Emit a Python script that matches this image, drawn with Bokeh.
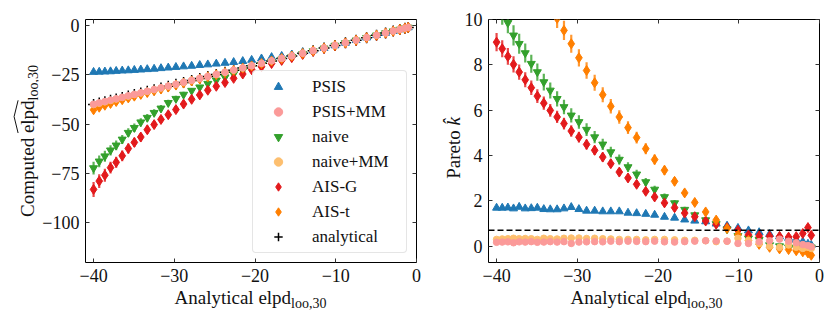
import math
from bokeh.plotting import figure
from bokeh.layouts import row, column
from bokeh.models import (ColumnDataSource, Legend, LegendItem, Span, Div,
                          LinearAxis, FixedTicker, CustomJSTickFormatter, Range1d,
                          CustomLabelingPolicy)
from bokeh.embed import file_html
from bokeh.resources import INLINE

# ---------------- data ----------------
ELPD_ANALYTICAL = [-40.0, -39.3, -38.6, -37.9, -37.2, -36.45, -35.7, -34.95, -34.15, -33.35,
                   -32.5, -31.65, -30.75, -29.8, -28.85, -27.85, -26.85, -25.85, -24.8, -23.72,
                   -22.65, -21.52, -20.42, -19.2, -17.95, -16.7, -15.45, -14.1, -12.8, -11.45,
                   -10.1, -8.8, -7.48, -6.18, -4.95, -3.83, -2.88, -2.07, -1.43, -1.02]

# left panel: computed elpd
PSIS_L = [-23.6, -23.5, -23.4, -23.3, -23.1, -22.9, -22.8, -22.6, -22.4, -22.2,
          -22.0, -21.7, -21.4, -21.1, -20.8, -20.5, -20.1, -19.8, -19.4, -19.0,
          -18.6, -18.1, -17.5, -16.8, -16.1, -15.5, -14.8, -13.6, -12.7, -11.45,
          -10.15, -8.85, -7.5, -6.2, -4.97, -3.85, -2.9, -2.08, -1.44, -1.03]
PSIS_MM_L = [-39.9, -39.2, -38.5, -37.8, -37.1, -36.4, -35.6, -34.9, -34.1, -33.3,
             -32.4, -31.6, -30.7, -29.75, -28.8, -27.8, -26.8, -25.8, -24.75, -23.7,
             -22.6, -21.5, -20.4, -19.15, -17.9, -16.65, -15.4, -14.05, -12.75, -11.4,
             -10.05, -8.75, -7.45, -6.15, -4.93, -3.8, -2.85, -2.05, -1.42, -1.0]
NAIVE_L = [-72.2, -68.8, -66.2, -63.2, -60.7, -57.7, -54.3, -51.8, -49.0, -46.7,
           -44.2, -42.0, -39.2, -37.1, -35.0, -33.0, -31.3, -29.5, -27.8, -26.2,
           -24.6, -22.9, -21.3, -19.9, -18.6, -17.2, -15.9, -14.4, -13.0, -11.6,
           -10.2, -8.9, -7.55, -6.25, -5.0, -3.88, -2.92, -2.1, -1.45, -1.04]
NAIVE_MM_L = [-40.1, -39.4, -38.7, -38.0, -37.3, -36.5, -35.8, -35.0, -34.2, -33.4,
              -32.55, -31.7, -30.8, -29.85, -28.9, -27.9, -26.9, -25.9, -24.85, -23.75,
              -22.7, -21.55, -20.45, -19.2, -17.95, -16.7, -15.45, -14.1, -12.8, -11.45,
              -10.1, -8.8, -7.48, -6.18, -4.95, -3.83, -2.88, -2.07, -1.43, -1.02]
AIS_G_L = [-83.0, -78.8, -75.8, -72.0, -69.3, -66.0, -62.3, -59.2, -56.5, -52.8,
           -50.2, -47.6, -45.2, -42.6, -39.8, -37.4, -35.2, -32.8, -30.8, -28.9,
           -26.8, -24.6, -22.4, -20.9, -19.3, -17.7, -16.3, -14.7, -13.2, -11.7,
           -10.3, -8.95, -7.6, -6.3, -5.05, -3.9, -2.95, -2.12, -1.47, -1.05]
AIS_T_L = [-42.7, -41.4, -40.4, -39.5, -38.5, -37.6, -36.7, -35.8, -34.9, -34.0,
           -33.1, -32.2, -31.2, -30.2, -29.2, -28.1, -27.1, -26.0, -24.95, -23.85,
           -22.75, -21.6, -20.5, -19.25, -18.0, -16.75, -15.5, -14.15, -12.85, -11.5,
           -10.15, -8.85, -7.5, -6.2, -4.97, -3.85, -2.9, -2.08, -1.44, -1.03]
NAIVE_L_ERR = [3.2, 3.0, 2.8, 2.6, 2.5, 2.3, 2.2, 2.1, 2.0, 1.9, 1.8, 1.7, 1.6, 1.5, 1.4, 1.3,
               1.2, 1.2, 1.1, 1.0, 1.0, 0.9, 0.9, 0.8, 0.8, 0.7, 0.7, 0.6, 0.6, 0.5, 0.5, 0.5,
               0.4, 0.4, 0.4, 0.3, 0.3, 0.3, 0.3, 0.3]
AIS_G_L_ERR = [3.8, 3.5, 3.3, 3.0, 2.8, 2.7, 2.5, 2.4, 2.2, 2.1, 2.0, 1.9, 1.8, 1.7, 1.6, 1.5,
               1.4, 1.3, 1.2, 1.1, 1.0, 1.0, 0.9, 0.9, 0.8, 0.8, 0.7, 0.7, 0.6, 0.6, 0.5, 0.5,
               0.5, 0.4, 0.4, 0.4, 0.3, 0.3, 0.3, 0.3]
AIS_T_L_ERR = [1.0, 1.0, 0.9, 0.9, 0.9, 0.8, 0.8, 0.8, 0.7, 0.7, 0.7, 0.7, 0.6, 0.6, 0.6, 0.6,
               0.5, 0.5, 0.5, 0.5, 0.5, 0.4, 0.4, 0.4, 0.4, 0.4, 0.3, 0.3, 0.3, 0.3, 0.3, 0.3,
               0.3, 0.3, 0.3, 0.3, 0.3, 0.3, 0.3, 0.3]

# right panel: Pareto k-hat
PSIS_R = [1.69, 1.69, 1.70, 1.66, 1.73, 1.66, 1.67, 1.69, 1.63, 1.62,
          1.62, 1.66, 1.72, 1.63, 1.56, 1.56, 1.53, 1.53, 1.53, 1.47,
          1.45, 1.42, 1.38, 1.29, 1.25, 1.17, 1.12, 1.09, 0.99, 0.90,
          0.80, 0.69, 0.61, 0.53, 0.43, 0.36, 0.28, 0.20, 0.10, 0.05]
PSIS_MM_R = [0.17, 0.18, 0.19, 0.15, 0.19, 0.18, 0.20, 0.17, 0.18, 0.20,
             0.18, 0.20, 0.12, 0.18, 0.19, 0.20, 0.19, 0.22, 0.20, 0.22,
             0.21, 0.20, 0.22, 0.19, 0.18, 0.20, 0.22, 0.24, 0.23, 0.22,
             0.12, 0.12, 0.20, 0.24, 0.31, 0.22, 0.15, 0.07, 0.03, -0.02]
NAIVE_R = [10.8, 10.25, 9.85, 9.3, 8.93, 8.52, 8.05, 7.68, 7.24, 6.87,
           6.5, 6.14, 5.77, 5.48, 5.14, 4.81, 4.49, 4.15, 3.82, 3.49,
           3.17, 2.83, 2.5, 2.17, 1.9, 1.61, 1.37, 1.15, 0.98, 0.75,
           0.45, 0.35, 0.28, 0.05, 0.0, -0.05, -0.1, -0.05, 0.0, -0.05]
NAIVE_MM_R = [0.30, 0.32, 0.33, 0.35, 0.33, 0.34, 0.33, 0.30, 0.35, 0.33,
              0.32, 0.35, 0.36, 0.36, 0.34, 0.35, 0.33, 0.32, 0.30, 0.30,
              0.30, 0.28, 0.30, 0.30, 0.28, 0.26, 0.26, 0.24, 0.20, 0.22,
              0.35, 0.25, 0.12, 0.0, -0.05, 0.05, -0.05, -0.1, -0.05, -0.1]
AIS_G_R = [9.0, 8.71, 8.37, 8.02, 7.68, 7.34, 6.99, 6.62, 6.31, 5.99,
           5.70, 5.41, 5.08, 4.81, 4.49, 4.23, 3.93, 3.64, 3.27, 3.01,
           2.73, 2.42, 2.17, 1.91, 1.70, 1.46, 1.30, 1.11, 0.97, 0.82,
           0.70, 0.50, 0.45, 0.44, 0.43, 0.40, 0.42, 0.56, 0.82, 0.48]
AIS_T_R = [16.2, 15.6, 15.0, 14.4, 13.8, 13.2, 12.6, 12.0, 11.3, 10.7,
           10.05, 9.52, 8.93, 8.31, 7.75, 7.21, 6.68, 6.17, 5.70, 5.23,
           4.79, 4.30, 3.82, 3.35, 2.86, 2.35, 1.93, 1.51, 1.15, 0.78,
           0.50, 0.26, 0.08, -0.05, -0.12, -0.15, -0.2, -0.25, -0.3, -0.4]
NAIVE_R_ERR = [0.5, 0.48, 0.46, 0.45, 0.44, 0.42, 0.4, 0.38, 0.37, 0.35, 0.34, 0.32, 0.31,
               0.3, 0.28, 0.27, 0.25, 0.24, 0.22, 0.21, 0.2, 0.18, 0.17, 0.15, 0.14, 0.13,
               0.12, 0.11, 0.1, 0.09, 0.08, 0.08, 0.07, 0.07, 0.06, 0.06, 0.06, 0.05, 0.05, 0.05]
AIS_G_R_ERR = [0.4, 0.38, 0.37, 0.36, 0.34, 0.33, 0.32, 0.3, 0.29, 0.28, 0.27, 0.26, 0.25,
               0.24, 0.22, 0.21, 0.2, 0.19, 0.18, 0.17, 0.16, 0.15, 0.14, 0.13, 0.12, 0.11,
               0.1, 0.09, 0.08, 0.08, 0.07, 0.07, 0.06, 0.06, 0.06, 0.06, 0.06, 0.06, 0.07, 0.06]
AIS_T_R_ERR = [0.6, 0.6, 0.58, 0.56, 0.54, 0.52, 0.5, 0.48, 0.46, 0.45, 0.43, 0.42, 0.4,
               0.38, 0.36, 0.35, 0.33, 0.32, 0.3, 0.28, 0.26, 0.24, 0.22, 0.2, 0.18, 0.16,
               0.14, 0.12, 0.1, 0.09, 0.08, 0.07, 0.06, 0.06, 0.06, 0.05, 0.05, 0.05, 0.05, 0.05]

K_THRESHOLD = 0.7
X_TICKS = [-40, -30, -20, -10, 0]
Y_TICKS_L = [0, -25, -50, -75, -100]
Y_TICKS_R = [0, 2, 4, 6, 8, 10]
LEGEND_LABELS = ["PSIS", "PSIS+MM", "naive", "naive+MM", "AIS-G", "AIS-t", "analytical"]
X_LABEL, X_LABEL_SUB = "Analytical elpd", "loo,30"
Y_LABEL_L, Y_LABEL_L_HAT, Y_LABEL_L_SUB = "Computed", "elpd", "loo,30"
Y_LABEL_R, Y_LABEL_R_SYM = "Pareto", "k\u0302"

# ---------------- style ----------------
FONT = "Liberation Serif"
C_PSIS, C_PSIS_MM, C_NAIVE = "#1f78b4", "#fb9a99", "#33a02c"
C_NAIVE_MM, C_AISG, C_AIST = "#fdbf6f", "#e31a1c", "#ff7f00"

FMT_CODE = "return tick < 0 ? '\u2212' + Math.abs(tick) : String(tick);"
FRAME_W, FRAME_H = 331, 243
TOP, BOTTOM = 19, 30
FIG_H = TOP + FRAME_H + BOTTOM


def make_fig(yr, yticks, left, right):
    p = figure(output_backend="svg", toolbar_location=None,
               frame_width=FRAME_W, frame_height=FRAME_H,
               x_range=Range1d(-41, 0), y_range=Range1d(*yr),
               min_border_left=left, min_border_right=right,
               min_border_top=TOP, min_border_bottom=BOTTOM,
               background_fill_color="white", border_fill_color="white",
               outline_line_color="#000000", outline_line_width=1)
    p.grid.visible = False
    for ax, ticks in ((p.xaxis[0], X_TICKS), (p.yaxis[0], yticks)):
        ax.ticker = FixedTicker(ticks=ticks)
        ax.formatter = CustomJSTickFormatter(code=FMT_CODE)
        ax.major_tick_in = 4
        ax.major_tick_out = 0
        ax.minor_tick_in = 0
        ax.minor_tick_out = 0
        ax.axis_line_color = None
        ax.major_tick_line_color = "#333333"
        ax.major_label_text_font = FONT
        ax.major_label_text_font_size = "18px"
        ax.major_label_text_color = "#111111"
        ax.major_label_standoff = 6
    for loc, ticks in (("above", X_TICKS), ("right", yticks)):
        ax = LinearAxis(ticker=FixedTicker(ticks=ticks), major_tick_in=4, major_tick_out=0,
                        minor_tick_in=0, minor_tick_out=0, axis_line_color=None,
                        major_tick_line_color="#333333",
                        major_label_policy=CustomLabelingPolicy(code="return [];"),
                        major_label_standoff=0)
        p.add_layout(ax, loc)
    return p


def series(p, x, y, color, marker, size, err=None, line_width=1.0):
    data = dict(x=x, y=y)
    if err is not None:
        data["lo"] = [a - b for a, b in zip(y, err)]
        data["hi"] = [a + b for a, b in zip(y, err)]
    src = ColumnDataSource(data)
    if err is not None:
        p.segment(x0="x", y0="lo", x1="x", y1="hi", source=src,
                  line_color=color, line_width=2.2, line_alpha=0.8)
    return p.scatter("x", "y", source=src, marker=marker, size=size,
                     fill_color=color, line_color=color, line_width=line_width)


TXT = ("white-space:nowrap; font-family:'Liberation Serif'; font-size:19px; "
       "line-height:19px; color:#111;")
SUB = "font-size:14px; vertical-align:-4px; line-height:0;"
HAT = ('<svg style="position:absolute; left:0; top:-4px; width:100%; height:5px; overflow:visible" '
       'viewBox="0 0 10 5" preserveAspectRatio="none"><polyline points="0,4.6 5,0.6 10,4.6" '
       'fill="none" stroke="#111" stroke-width="1" vector-effect="non-scaling-stroke"/></svg>')


def xlabel_div(width, center):
    html = (f'<div style="position:absolute; left:{center}px; top:-4px; '
            f'transform:translateX(-50%); {TXT}">{X_LABEL}'
            f'<sub style="{SUB}">{X_LABEL_SUB}</sub></div>')
    return Div(text=html, width=width, height=324 - FIG_H, margin=0)


def ylabel_div(width, cx, cy, inner):
    html = (f'<div style="position:absolute; left:{cx}px; top:{cy}px; '
            f'transform:translate(-50%,-50%) rotate(-90deg); {TXT}">{inner}</div>')
    return Div(text=html, width=width, height=FIG_H, margin=0)


# ---------------- left panel ----------------
YL1_W = 38
p1 = make_fig((-120, 3), Y_TICKS_L, 85 - YL1_W, 24)
X = ELPD_ANALYTICAL
r_an = series(p1, X, ELPD_ANALYTICAL, "black", "cross", 11, line_width=1.5)
r_ps = series(p1, X, PSIS_L, C_PSIS, "triangle", 8)
r_nv = series(p1, X, NAIVE_L, C_NAIVE, "inverted_triangle", 8, err=NAIVE_L_ERR)
r_ag = series(p1, X, AIS_G_L, C_AISG, "diamond", 10, err=AIS_G_L_ERR)
r_at = series(p1, X, AIS_T_L, C_AIST, "diamond", 10, err=AIS_T_L_ERR)
r_nm = series(p1, X, NAIVE_MM_L, C_NAIVE_MM, "circle", 6.5)
r_pm = series(p1, X, PSIS_MM_L, C_PSIS_MM, "circle", 6.5)

renderers = [r_ps, r_pm, r_nv, r_nm, r_ag, r_at, r_an]
legend = Legend(items=[LegendItem(label=l, renderers=[r]) for l, r in zip(LEGEND_LABELS, renderers)],
                location="bottom_right", margin=9, padding=5, spacing=4,
                glyph_width=40, glyph_height=21, label_height=21, label_standoff=14,
                label_width=89, label_text_font=FONT, label_text_font_size="17px",
                label_text_color="#111111",
                border_line_color="#cccccc", border_line_width=1.2,
                background_fill_color="white", background_fill_alpha=0.85)
if "border_radius" in Legend.properties():
    legend.border_radius = 4
p1.add_layout(legend, "center")

# ---------------- right panel ----------------
YL2_W = 17
p2 = make_fig((-0.72, 10), Y_TICKS_R, 24, 10)
p2.add_layout(Span(location=K_THRESHOLD, dimension="width", line_color="black",
                   line_dash="6 3", line_width=1.5))
series(p2, X, PSIS_R, C_PSIS, "triangle", 8)
series(p2, X, NAIVE_R, C_NAIVE, "inverted_triangle", 8, err=NAIVE_R_ERR)
series(p2, X, AIS_G_R, C_AISG, "diamond", 10, err=AIS_G_R_ERR)
series(p2, X, AIS_T_R, C_AIST, "diamond", 10, err=AIS_T_R_ERR)
series(p2, X, NAIVE_MM_R, C_NAIVE_MM, "circle", 6.5)
series(p2, X, PSIS_MM_R, C_PSIS_MM, "circle", 6.5)

# ---------------- axis labels as HTML text ----------------
yl1 = ylabel_div(YL1_W, 27, 141,
                 f'{Y_LABEL_L} <span style="position:relative; display:inline-block;">'
                 f'{Y_LABEL_L_HAT}{HAT}</span><sub style="{SUB}">{Y_LABEL_L_SUB}</sub>')
yl2 = ylabel_div(YL2_W, 9, 148, f'{Y_LABEL_R} <i>{Y_LABEL_R_SYM}</i>')

W1 = 85 + FRAME_W + 24
W2 = YL2_W + 24 + FRAME_W + 10
xl1 = xlabel_div(W1, 85 + FRAME_W / 2)
xl2 = xlabel_div(W2, YL2_W + 24 + FRAME_W / 2)

layout = column(row(yl1, p1, yl2, p2), row(xl1, xl2))
open("out.html", "w").write(file_html(layout, INLINE))
